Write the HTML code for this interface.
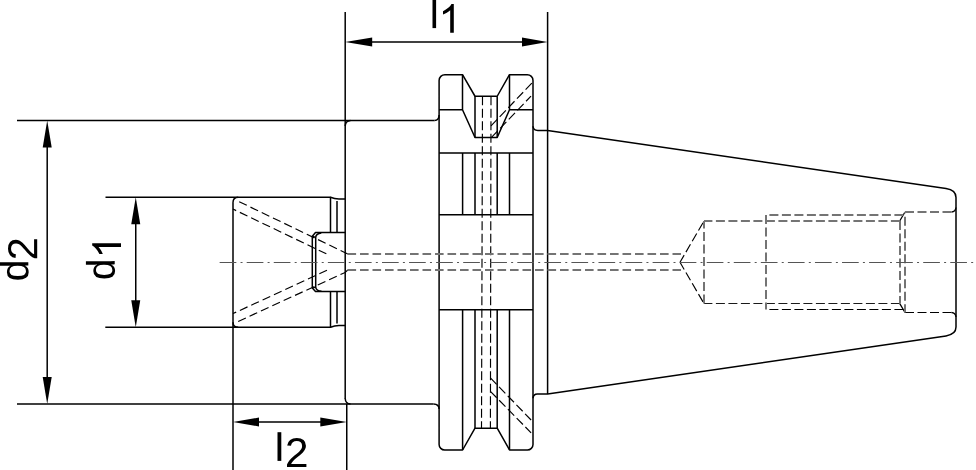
<!DOCTYPE html>
<html><head><meta charset="utf-8"><title>Tool holder drawing</title>
<style>
html,body{margin:0;padding:0;background:#fff;width:976px;height:470px;overflow:hidden}
svg{display:block}
</style></head>
<body>
<svg width="976" height="470" viewBox="0 0 976 470">
<rect width="976" height="470" fill="#fff"/>

<!-- ===== dimension lines ===== -->
<g stroke="#000" stroke-width="1.5" fill="none">
  <path d="M17,120.5H434.5"/>
  <path d="M17,404H433.5"/>
  <path d="M47.2,145V379"/>
  <path d="M105.5,197.25H331"/>
  <path d="M105.3,327.25H331"/>
  <path d="M135.75,222V303"/>
  <path d="M345.2,12.1V399"/>
  <path d="M547.6,12.1V394.1"/>
  <path d="M368,42H525"/>
  <path d="M233,202.3V470"/>
  <path d="M346.75,404V470"/>
  <path d="M257,422H323"/>
</g>
<g fill="#000">
  <path d="M47.2,120.5L51.7,147.5H42.7Z"/>
  <path d="M47.2,404L51.7,377H42.7Z"/>
  <path d="M135.75,197.25L140.25,224.25H131.25Z"/>
  <path d="M135.75,327.25L140.25,300.25H131.25Z"/>
  <path d="M345.2,42L372.2,37.5V46.5Z"/>
  <path d="M547.6,42L522,37.6V46.4Z"/>
  <path d="M233,422L259,417.6V426.4Z"/>
  <path d="M346.75,422L320.3,417.6V426.4Z"/>
</g>

<!-- ===== labels ===== -->
<g fill="#000">
  <!-- l1 -->
  <rect x="432.5" y="-1" width="3.6" height="29.1"/>
  <path d="M763 0H583V1147Q518 1085 412.5 1023Q307 961 223 930V1104Q374 1175 487 1276Q600 1377 647 1472H763Z" transform="matrix(0.02,0,0,-0.01957,438.54,32.8)"/>
  <!-- l2 -->
  <rect x="277.5" y="432.2" width="3.8" height="28.7"/>
  <path d="M103 0V127Q154 244 227.5 333.5Q301 423 382 495.5Q463 568 542.5 630Q622 692 686 754Q750 816 789.5 884Q829 952 829 1038Q829 1154 761 1218Q693 1282 572 1282Q457 1282 382.5 1219.5Q308 1157 295 1044L111 1061Q131 1230 254.5 1330Q378 1430 572 1430Q785 1430 899.5 1329.5Q1014 1229 1014 1044Q1014 962 976.5 881Q939 800 865 719Q791 638 582 468Q467 374 399 298.5Q331 223 301 153H1036V0Z" transform="matrix(0.02079,0,0,-0.02042,284.86,467.1)"/>
  <!-- d2 -->
  <path d="M821 174Q771 70 688.5 25Q606 -20 484 -20Q279 -20 182.5 118Q86 256 86 536Q86 1102 484 1102Q607 1102 689 1057Q771 1012 821 914H823L821 1035V1484H1001V223Q1001 54 1007 0H835Q832 16 828.5 74Q825 132 825 174ZM275 542Q275 315 335 217Q395 119 530 119Q683 119 752 225Q821 331 821 554Q821 769 752 869Q683 969 532 969Q396 969 335.5 868.5Q275 768 275 542Z" transform="matrix(0,-0.0190,-0.01941,0,28.31,281.33)"/>
  <path d="M103 0V127Q154 244 227.5 333.5Q301 423 382 495.5Q463 568 542.5 630Q622 692 686 754Q750 816 789.5 884Q829 952 829 1038Q829 1154 761 1218Q693 1282 572 1282Q457 1282 382.5 1219.5Q308 1157 295 1044L111 1061Q131 1230 254.5 1330Q378 1430 572 1430Q785 1430 899.5 1329.5Q1014 1229 1014 1044Q1014 962 976.5 881Q939 800 865 719Q791 638 582 468Q467 374 399 298.5Q331 223 301 153H1036V0Z" transform="matrix(0,-0.02026,-0.02042,0,37.2,260.29)"/>
  <!-- d1 -->
  <path d="M821 174Q771 70 688.5 25Q606 -20 484 -20Q279 -20 182.5 118Q86 256 86 536Q86 1102 484 1102Q607 1102 689 1057Q771 1012 821 914H823L821 1035V1484H1001V223Q1001 54 1007 0H835Q832 16 828.5 74Q825 132 825 174ZM275 542Q275 315 335 217Q395 119 530 119Q683 119 752 225Q821 331 821 554Q821 769 752 869Q683 969 532 969Q396 969 335.5 868.5Q275 768 275 542Z" transform="matrix(0,-0.0190,-0.01941,0,114.71,280.23)"/>
  <path d="M763 0H583V1147Q518 1085 412.5 1023Q307 961 223 930V1104Q374 1175 487 1276Q600 1377 647 1472H763Z" transform="matrix(0,-0.02,-0.01957,0,121.0,258.56)"/>
</g>

<!-- ===== body outline ===== -->
<g stroke="#000" stroke-width="1.5" fill="none" stroke-linejoin="round">
  <!-- spigot -->
  <path d="M238.2,197.25Q233,197.25 233,202.5M233,322.2Q233,327.25 238.2,327.25"/>
  <path d="M330.5,197.25Q334.5,199 339,199H345.2"/>
  <path d="M330.5,327.25Q334.5,325.5 339,325.5H345.2"/>
  <path d="M330.5,197.25V232.6M337,201V232.6"/>
  <path d="M330.5,291.6V327.25M337,291.6V323.5"/>
  <!-- recess -->
  <path d="M345.2,232.6H315.5L312.3,236.3V288L315.5,291.6H345.2"/>
  <path d="M321.3,233Q316,233.6 315.7,237.4V287Q316,290.7 321.5,291.3"/>
  <path d="M312.3,236.3L315.7,237.4M312.3,288L315.7,287"/>
  <!-- body corners -->
  <path d="M345.2,126Q345.5,120.8 350.5,120.5"/>
  <path d="M345.2,398.5Q345.5,403.7 350.5,404"/>
  <!-- body to flange fillets -->
  <path d="M434.5,120.5Q439.1,120.3 439.1,115"/>
  <path d="M433.5,404Q439.1,404.2 439.1,409"/>
  <!-- flange outline -->
  <path d="M439.1,80.5A5.8,5.8 0 0 1 444.9,74.7H462.5L475,96.25H497.2L509.5,74.7H527.3A5.7,5.7 0 0 1 533,80.4V444.4A5.6,5.6 0 0 1 527.4,450H509.5L497.2,428.2H475L462.6,450H444.7A5.6,5.6 0 0 1 439.1,444.4Z"/>
  <path d="M533,126.2Q533.4,130.4 537.8,130.4H547.6L946,188.5Q956,190 956,197.5V327Q956,334.3 946,335.9L547.6,394.1H537.4Q533.3,394.1 533,398.3"/>
  <!-- flange interior -->
  <path d="M462.5,74.7V109.8M439.1,109.8H462.5L475,137.5"/>
  <path d="M475,96.25V137.5H497.2V96.25"/>
  <path d="M497.2,137.5L509.5,109.8H533M509.5,74.7V109.8"/>
  <path d="M439.1,153H533M439.1,214.8H533M439.1,309.8H533"/>
  <path d="M462.6,153V214.8M475,153V214.8M497.2,153V214.8M509.5,153V214.8"/>
  <path d="M462.6,309.8V450M509.5,309.8V450M475,309.8V428.2M497.2,309.8V428.2"/>
  <!-- counterbore chamfers + fillets -->
  <path d="M905,212L899.7,221M905,312.5L899.8,303.6" stroke-width="1.3"/>
  <path d="M951.5,212Q955.5,211.7 956,207.5M951.5,312.5Q955.5,312.8 956,317" stroke-width="1.3"/>
</g>

<!-- ===== hidden lines ===== -->
<g stroke="#000" stroke-width="1.15" fill="none" stroke-dasharray="9 3.5">
  <!-- spigot cone -->
  <path d="M239.2,201.7L345.2,252.7" stroke-dasharray="8.4 4.1"/>
  <path d="M233,209.1L326.7,254" stroke-dasharray="8.4 4.1" stroke-dashoffset="4.9"/>
  <path d="M238.2,321.4L345.2,272.4" stroke-dasharray="8.4 4.1"/>
  <path d="M233,313.6L327,270.2" stroke-dasharray="8.4 4.1" stroke-dashoffset="4.9"/>
  <path d="M345.2,252.7L347.8,254M345.2,272.4L347.8,270" stroke-dasharray="none"/>
  <!-- flange slot hidden -->
  <path d="M482.5,96.25L481.5,428.2"/>
  <path d="M491,96.25L490.4,428.2"/>
  <path d="M491,125.8L532.5,82.5M491.5,137.4L531,96.1"/>
  <path d="M490.4,377.8L531.1,420M490.4,391.3L531.1,432.8"/>
  <!-- drill point -->
  <path d="M680,262.3L704,221M680,262.3L704,303.6" stroke-dashoffset="0.7"/>
  <!-- lower (crisp) thread lines -->
  <path d="M704,303.5H899.8" stroke-dashoffset="0.6" stroke-width="1" stroke="#1a1a1a"/>
  <path d="M766,309.5H904" stroke-dashoffset="9.1" stroke-width="1"/>
  <path d="M905,312.5H951.5" stroke-width="1"/>
</g>
<g stroke="#747474" stroke-width="2" fill="none" stroke-dasharray="9 3.5">
  <path d="M347.5,254H681M347.5,270H681" stroke-dasharray="8.6 3.9"/>
  <path d="M704,221V303.6" stroke-dashoffset="1.5"/>
  <path d="M704,221H899.7" stroke-dashoffset="0.6"/>
  <path d="M766,215H904" stroke-dashoffset="9.1"/>
  <path d="M766,215V309.5"/>
  <path d="M900,221V303.6"/>
  <path d="M905,212V312.5" stroke-dashoffset="7.7"/>
  <path d="M905,212H951.5"/>
</g>
<!-- center line -->
<path d="M219.64,262.5H976" stroke="#555" stroke-width="1" fill="none" stroke-dasharray="16.7 4.2 2 4.16"/>
</svg>
</body></html>
